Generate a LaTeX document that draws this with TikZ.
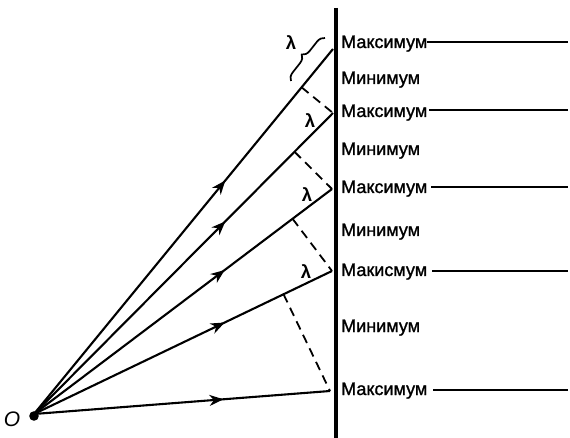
\documentclass[tikz,border=0pt]{standalone}
\usepackage{fontspec}
\setmainfont{Liberation Sans}
\newfontfamily\medfont{Liberation Sans}[BoldFont={Liberation Sans}, BoldFeatures={FakeBold=1.3}]
\usetikzlibrary{calc,arrows.meta,decorations.markings,decorations.pathreplacing}
\tikzset{
  ray/.style={line width=2.1pt,
    postaction={decorate},
    decoration={markings,mark=at position 0.64 with {\arrow{Stealth[length=14pt,width=11pt,inset=4.5pt]}}}},
  perp/.style={line width=1.8pt, dash pattern=on 9pt off 6pt},
  wall/.style={line width=3.5pt},
  lbl/.style={anchor=base west, inner sep=0pt, font=\medfont\bfseries\fontsize{18}{20}\selectfont},
  lam/.style={font=\bfseries\fontsize{18.5}{20}\selectfont, inner sep=0pt},
  hline/.style={line width=1.6pt}
}
\begin{document}
\begin{tikzpicture}[x=1pt,y=-1pt]
\useasboundingbox (0,0) rectangle (570,438);
% wall
\coordinate (wt) at (336,8);
\coordinate (wb) at (336,438);
\draw[wall] (wt) -- (wb);
% source
\coordinate (O) at (34,414);
\fill (O) ++(0,2) circle (4.8);
\node[font=\medfont\bfseries\itshape\fontsize{21}{23}\selectfont, inner sep=0pt] (olabel) at (12,419) {O};
% ray ends
\coordinate (P1) at (333,49);
\coordinate (P2) at (333,113);
\coordinate (P3) at (332,189);
\coordinate (P4) at (332,271);
\coordinate (P5) at (330,391);
\foreach \p in {P1,P2,P3,P4,P5} \draw[ray] (O) -- (\p);
% perpendicular feet
\coordinate (F1) at ($(O)!(P2)!(P1)$);
\coordinate (F2) at ($(O)!(P3)!(P2)$);
\coordinate (F3) at ($(O)!(P4)!(P3)$);
\coordinate (F4) at ($(O)!(P5)!(P4)$);
\draw[perp] (F1) -- (P2);
\draw[perp] (F2) -- (P3);
\draw[perp] (F3) -- (P4);
\draw[perp] (F4) -- (P5);
% lambda labels
\node[lam] (l1) at (291,43) {λ};
\node[lam] (l2) at (310,121) {λ};
\node[lam] (l3) at (307,195) {λ};
\node[lam] (l4) at (306,272) {λ};
\coordinate (b1) at (291,81);
\coordinate (b2) at (325,38);
\draw[line width=1.7pt, decorate, decoration={brace, amplitude=8pt}] (b1) -- (b2);
% labels
\node[lbl] (m1) at (341,48) {Максимум};
\node[lbl] (n1) at (341,84) {Минимум};
\node[lbl] (m2) at (341,117) {Максимум};
\node[lbl] (n2) at (341,155) {Минимум};
\node[lbl] (m3) at (341,193) {Максимум};
\node[lbl] (n3) at (341,236) {Минимум};
\node[lbl] (m4) at (341,276) {Макисмум};
\node[lbl] (n4) at (341,332) {Минимум};
\node[lbl] (m5) at (341,395) {Максимум};
% horizontal lines
\coordinate (r1) at (568,42);
\coordinate (r2) at (568,110);
\coordinate (r3) at (568,187);
\coordinate (r4) at (568,271);
\coordinate (r5) at (568,390);
\draw[hline] (m1.base east |- r1) -- (r1);
\draw[hline] ([xshift=2pt]m2.base east |- r2) -- (r2);
\draw[hline] ([xshift=4pt]m3.base east |- r3) -- (r3);
\draw[hline] ([xshift=5pt]m4.base east |- r4) -- (r4);
\draw[hline] ([xshift=6pt]m5.base east |- r5) -- (r5);
\end{tikzpicture}
\end{document}
